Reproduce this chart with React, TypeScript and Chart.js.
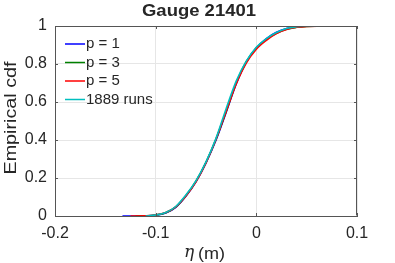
import React, { useEffect, useRef } from "react";
import { Chart, registerables } from "chart.js";

Chart.register(...registerables);

const TITLE = "Gauge 21401";
const Y_LABEL = "Empirical cdf";
const SERIES_NAMES = ["p = 1", "p = 3", "p = 5", "1889 runs"];
const SERIES_COLORS = ["#0000ff", "#008000", "#ff0000", "#00bfbf"];

const X_TICKS = [-0.2, -0.1, 0, 0.1];
const X_TICK_LABELS = ["-0.2", "-0.1", "0", "0.1"];
const Y_TICKS = [0, 0.2, 0.4, 0.6, 0.8, 1];
const Y_TICK_LABELS = ["0", "0.2", "0.4", "0.6", "0.8", "1"];

const P1_X = [-0.133, -0.12, -0.11, -0.1, -0.09, -0.08, -0.07, -0.06, -0.05, -0.04, -0.03, -0.02, -0.01, 0, 0.01, 0.02, 0.03, 0.04, 0.05, 0.06];
const P1_Y = [0, 0, 0.001, 0.004, 0.016, 0.046, 0.104, 0.18, 0.28, 0.4, 0.545, 0.695, 0.81, 0.885, 0.934, 0.967, 0.987, 0.996, 0.999, 1];

const P3_X = [-0.12, -0.11, -0.1, -0.09, -0.08, -0.07, -0.06, -0.05, -0.04, -0.03, -0.02, -0.01, 0, 0.01, 0.02, 0.03, 0.04, 0.05, 0.06, 0.071];
const P3_Y = [0, 0.001, 0.005, 0.017, 0.048, 0.107, 0.183, 0.283, 0.405, 0.55, 0.7, 0.812, 0.884, 0.93, 0.962, 0.983, 0.993, 0.998, 0.9995, 1];

const P5_X = [-0.125, -0.11, -0.1, -0.09, -0.08, -0.07, -0.06, -0.05, -0.04, -0.03, -0.02, -0.01, 0, 0.01, 0.02, 0.03, 0.04, 0.05, 0.066];
const P5_Y = [0, 0.001, 0.005, 0.018, 0.048, 0.105, 0.18, 0.28, 0.405, 0.55, 0.695, 0.805, 0.878, 0.925, 0.96, 0.982, 0.993, 0.998, 1];

const RUNS_X = [-0.11, -0.1, -0.09, -0.08, -0.07, -0.06, -0.05, -0.04, -0.03, -0.02, -0.01, 0, 0.01, 0.02, 0.03, 0.04, 0.05];
const RUNS_Y = [0, 0.005, 0.018, 0.05, 0.11, 0.185, 0.285, 0.41, 0.565, 0.71, 0.815, 0.888, 0.934, 0.966, 0.987, 0.996, 1];

const SERIES_X = [P1_X, P3_X, P5_X, RUNS_X];
const SERIES_Y = [P1_Y, P3_Y, P5_Y, RUNS_Y];

const FONT = "'Liberation Sans', Arial, Helvetica, sans-serif";
const TEXT_COLOR = "#262626";
const AXIS_COLOR = "#555555";
const GRID_COLOR = "#e6e6e6";

function fitText(
  ctx: CanvasRenderingContext2D,
  text: string,
  x: number,
  y: number,
  font: string,
  targetWidth: number | null,
  align: CanvasTextAlign,
  baseline: CanvasTextBaseline
) {
  ctx.save();
  ctx.font = font;
  const w = ctx.measureText(text).width;
  const sx = targetWidth ? targetWidth / w : 1;
  ctx.translate(x, y);
  ctx.scale(sx, 1);
  ctx.textAlign = align;
  ctx.textBaseline = baseline;
  ctx.fillText(text, 0, 0);
  ctx.restore();
}

const decorPlugin = {
  id: "decor",
  afterDraw(chart: any) {
    const ctx: CanvasRenderingContext2D = chart.ctx;
    const a = chart.chartArea;
    const xs = chart.scales.x;
    const ys = chart.scales.y;
    ctx.save();
    ctx.fillStyle = TEXT_COLOR;
    // box
    ctx.strokeStyle = AXIS_COLOR;
    ctx.lineWidth = 1;
    ctx.beginPath();
    ctx.moveTo(a.left + 0.5, a.top + 0.5);
    ctx.lineTo(a.right - 0.5, a.top + 0.5);
    ctx.lineTo(a.right - 0.5, a.bottom - 0.5);
    ctx.stroke();
    // inward tick marks
    ctx.beginPath();
    X_TICKS.forEach((v) => {
      const px = Math.round(xs.getPixelForValue(v)) + 0.5;
      ctx.moveTo(px, a.bottom);
      ctx.lineTo(px, a.bottom - 3);
      ctx.moveTo(px, a.top);
      ctx.lineTo(px, a.top + 3);
    });
    Y_TICKS.forEach((v) => {
      const py = Math.round(ys.getPixelForValue(v)) + 0.5;
      ctx.moveTo(a.left, py);
      ctx.lineTo(a.left + 3, py);
      ctx.moveTo(a.right, py);
      ctx.lineTo(a.right - 3, py);
    });
    ctx.stroke();

    // title
    fitText(ctx, TITLE, 199, 16, `bold 17px ${FONT}`, 114, "center", "alphabetic");

    // y label
    ctx.save();
    ctx.translate(16, 118);
    ctx.rotate(-Math.PI / 2);
    fitText(ctx, Y_LABEL, 0, 0, `16px ${FONT}`, 113, "center", "alphabetic");
    ctx.restore();

    // x label: italic eta + (m)
    ctx.textBaseline = "alphabetic";
    ctx.font = `italic 17px 'DejaVu Serif', 'Liberation Serif', serif`;
    ctx.textAlign = "left";
    ctx.fillText("\u03b7", 184, 257);
    fitText(ctx, "(m)", 198, 259, `16px ${FONT}`, 27, "left", "alphabetic");

    // legend
    const rows = [44, 62.5, 81, 99.5];
    chart.data.datasets.forEach((ds: any, i: number) => {
      const y = rows[i];
      ctx.strokeStyle = SERIES_COLORS[i];
      ctx.lineWidth = 1.5;
      ctx.beginPath();
      ctx.moveTo(65, y);
      ctx.lineTo(85, y);
      ctx.stroke();
      fitText(ctx, SERIES_NAMES[i], 86, y, `15px ${FONT}`, null, "left", "middle");
    });
    ctx.restore();
  },
};

export default function App() {
  const ref = useRef<HTMLCanvasElement | null>(null);
  useEffect(() => {
    if (!ref.current) return;
    const datasets = SERIES_NAMES.map((name, i) => ({
      label: name,
      data: SERIES_X[i].map((x, j) => ({ x, y: SERIES_Y[i][j] })),
      borderColor: SERIES_COLORS[i],
      backgroundColor: SERIES_COLORS[i],
      borderWidth: 1.6,
      pointRadius: 0,
      cubicInterpolationMode: "monotone" as const,
      fill: false,
      order: 3 - i,
    }));
    const chart = new Chart(ref.current, {
      type: "line",
      data: { datasets },
      options: {
        animation: false,
        responsive: true,
        maintainAspectRatio: false,
        layout: { padding: { top: 26, right: 38, left: 0, bottom: 0 } },
        plugins: { legend: { display: false }, tooltip: { enabled: false }, title: { display: false } },
        scales: {
          x: {
            type: "linear",
            min: -0.2,
            max: 0.1,
            afterBuildTicks: (s: any) => {
              s.ticks = X_TICKS.map((v) => ({ value: v }));
            },
            afterFit: (s: any) => {
              s.height = 47;
            },
            ticks: {
              padding: 8,
              color: TEXT_COLOR,
              font: { family: FONT, size: 16 },
              maxRotation: 0,
              autoSkip: false,
              callback: (v: any) => {
                const k = X_TICKS.findIndex((t) => Math.abs(t - Number(v)) < 1e-9);
                return k >= 0 ? X_TICK_LABELS[k] : "";
              },
            },
            grid: { color: GRID_COLOR, drawTicks: false, lineWidth: 1 },
            border: { display: true, color: AXIS_COLOR, width: 1 },
          },
          y: {
            type: "linear",
            min: 0,
            max: 1,
            afterBuildTicks: (s: any) => {
              s.ticks = Y_TICKS.map((v) => ({ value: v }));
            },
            afterFit: (s: any) => {
              s.width = 55;
            },
            ticks: {
              padding: 8,
              color: TEXT_COLOR,
              font: { family: FONT, size: 16 },
              autoSkip: false,
              callback: (v: any) => {
                const k = Y_TICKS.findIndex((t) => Math.abs(t - Number(v)) < 1e-9);
                return k >= 0 ? Y_TICK_LABELS[k] : "";
              },
            },
            grid: { color: GRID_COLOR, drawTicks: false, lineWidth: 1 },
            border: { display: true, color: AXIS_COLOR, width: 1 },
          },
        },
      },
      plugins: [decorPlugin],
    });
    return () => chart.destroy();
  }, []);
  return (
    <div style={{ position: "absolute", left: 0, top: 0, width: 395, height: 263, background: "#fff" }}>
      <canvas ref={ref} />
    </div>
  );
}
